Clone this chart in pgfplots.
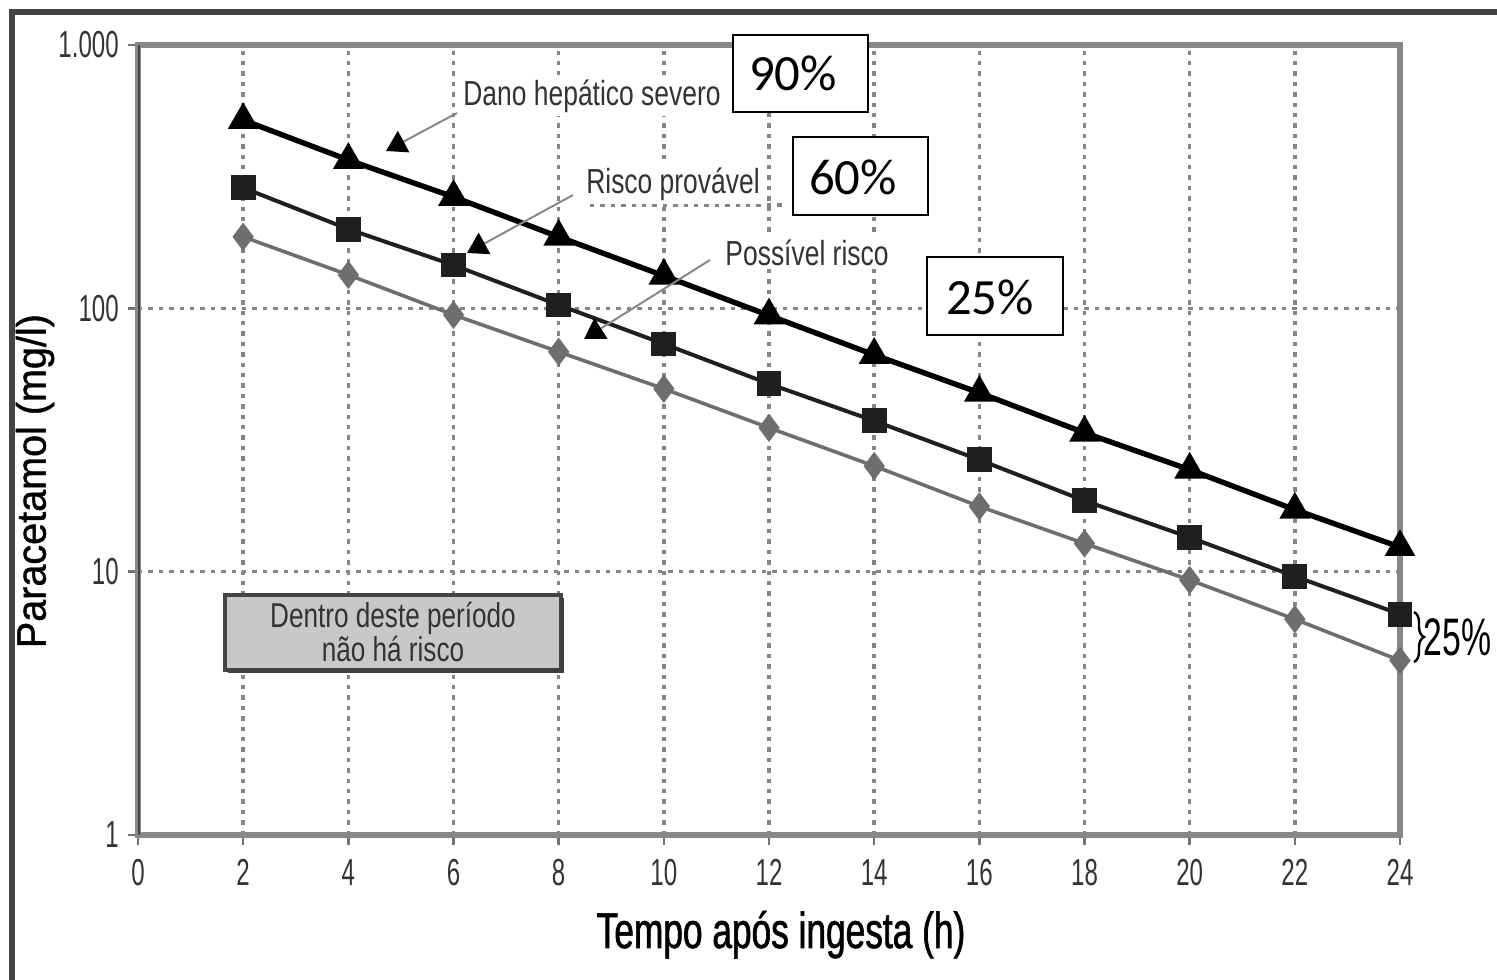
\documentclass[border=0pt]{standalone}
\usepackage{fontspec}
\setmainfont{Liberation Sans}[FakeStretch=0.72]
\newfontfamily\tickfont{Liberation Sans}[FakeStretch=0.64]
\newfontfamily\annfont{Liberation Sans}[FakeStretch=0.76]
\newfontfamily\xlabfont{Liberation Sans}[FakeStretch=0.70,FakeBold=1.2]
\newfontfamily\ylabfont{Liberation Sans}[FakeStretch=0.96,FakeBold=1.0]
\newfontfamily\pctfont{Carlito}
\usepackage{pgfplots}
\pgfplotsset{compat=1.18}
\usetikzlibrary{arrows.meta,decorations.pathreplacing}
\definecolor{axgray}{HTML}{888888}
\definecolor{griddot}{HTML}{858585}
\definecolor{framegray}{HTML}{444444}
\definecolor{boxgray}{HTML}{C8C8C8}
\definecolor{diam}{HTML}{6E6E6E}
\definecolor{txt}{HTML}{333333}

\begin{document}
\begin{tikzpicture}[pix/.style={x=0.25pt,y=-0.25pt,shift={(-138,-835)}},
  annlabel/.style={fill=white, inner sep=1pt, anchor=base, text=txt,
    font=\annfont\fontsize{8.7}{10}\selectfont},
  leader/.style={axgray, line width=0.5pt,
    -{Triangle[color=black,fill=black,length=5pt,width=6pt]}}]
\begin{axis}[
  scale only axis, width=315.5pt, height=197.5pt,
  at={(0,0)}, anchor=south west,
  ymode=log, xmin=0, xmax=24, ymin=1, ymax=1000,
  xtick={0,2,...,24},
  ytick={1,10,100,1000}, yticklabels={1,10,100,1.000},
  yminorticks=false,
  grid=major,
  grid style={griddot, line width=0.85pt, dash pattern=on 1.1pt off 1.5pt},
  axis line style={axgray, line width=1.3pt},
  tick align=outside, tick pos=left, major tick length=2.5pt,
  tick style={black!55, line width=0.6pt},
  ticklabel style={font=\tickfont\fontsize{9.4}{10}\selectfont, text=black!80},
  yticklabel style={xshift=1.2pt},
  /pgf/number format/assume math mode=true,
  xlabel={\xlabfont\fontsize{12.6}{14}\selectfont Tempo após ingesta (h)},
  ylabel={\ylabfont\fontsize{10.3}{12}\selectfont Paracetamol (mg/l)},
  xlabel style={at={(axis description cs:0.5095,-0.143)}, anchor=base},
  ylabel style={at={(axis description cs:-0.0816,0.448)}, anchor=center},
]
% dano hepatico severo
\addplot[black, line width=1.35pt, mark=triangle*, mark size=3.1pt] coordinates {
  (2,519) (4,366) (6,265) (8,187) (10,133) (12,94)
  (14,66.6) (16,47.8) (18,33.7) (20,24.4) (22,17.2) (24,12.4)
};
% risco provavel
\addplot[black!88, line width=1.0pt, mark=square*, mark size=2.6pt] coordinates {
  (2,287) (4,200) (6,146) (8,103) (10,73.3) (12,51.7)
  (14,37.4) (16,26.6) (18,18.6) (20,13.5) (22,9.6) (24,6.9)
};
% possivel risco
\addplot[diam, line width=0.9pt, mark=diamond*, mark size=2.8pt] coordinates {
  (2,187) (4,134) (6,94.5) (8,68.4) (10,49.5) (12,35.2)
  (14,25.2) (16,17.7) (18,12.8) (20,9.3) (22,6.6) (24,4.6)
};
\draw[framegray, line width=1pt] (rel axis cs:0,0) -- (rel axis cs:0,1);
\end{axis}

\begin{scope}[pix]
% outer frame (only top and left visible)
\draw[framegray, line width=1.3pt] (12,1010) -- (12,12) -- (1510,12);

% series labels with leader lines
\draw[leader] (457,113) -- (386,151);
\node[annlabel] at (592,105) {Dano hepático severo};
\draw[griddot, line width=0.8pt, dash pattern=on 1.1pt off 1.5pt] (590,205) -- (783,205);
\draw[leader] (573,195) -- (467,253);
\node[annlabel] at (673,193) {Risco provável};
\draw[leader] (710,260) -- (584,339);
\node[annlabel] at (807,265) {Possível risco};

% percentage boxes
\draw[black, line width=0.55pt, fill=white] (733,35) rectangle (868,112);
\node[font=\pctfont\fontsize{12.7}{14}\selectfont] at (793,73) {90\%};
\draw[black, line width=0.55pt, fill=white] (793,137) rectangle (928,215);
\node[font=\pctfont\fontsize{12.7}{14}\selectfont] at (853,177) {60\%};
\draw[black, line width=0.55pt, fill=white] (927,257) rectangle (1063,335);
\node[font=\pctfont\fontsize{12.7}{14}\selectfont] at (990,297) {25\%};

% no-risk box
\draw[framegray, line width=0.8pt, fill=boxgray] (225,595) rectangle (561,670);
\draw[black!75, line width=1.1pt] (228,671) -- (562,671) -- (562,598);
\node[align=center, text=txt, font=\annfont\fontsize{8.6}{8.3}\selectfont]
  at (393,632) {Dentro deste período\\não há risco};

% brace at 24 h
\draw[black, line width=0.6pt, decorate, decoration={brace, amplitude=2.5pt}]
  (1414,612) -- (1414,662);
\node[anchor=west, inner sep=0pt, font=\tickfont\fontsize{13.2}{15}\selectfont] at (1423,637) {25\%};

\pgfresetboundingbox
\path[use as bounding box] (0,0) rectangle (1497,979);
\end{scope}
\end{tikzpicture}
\end{document}
